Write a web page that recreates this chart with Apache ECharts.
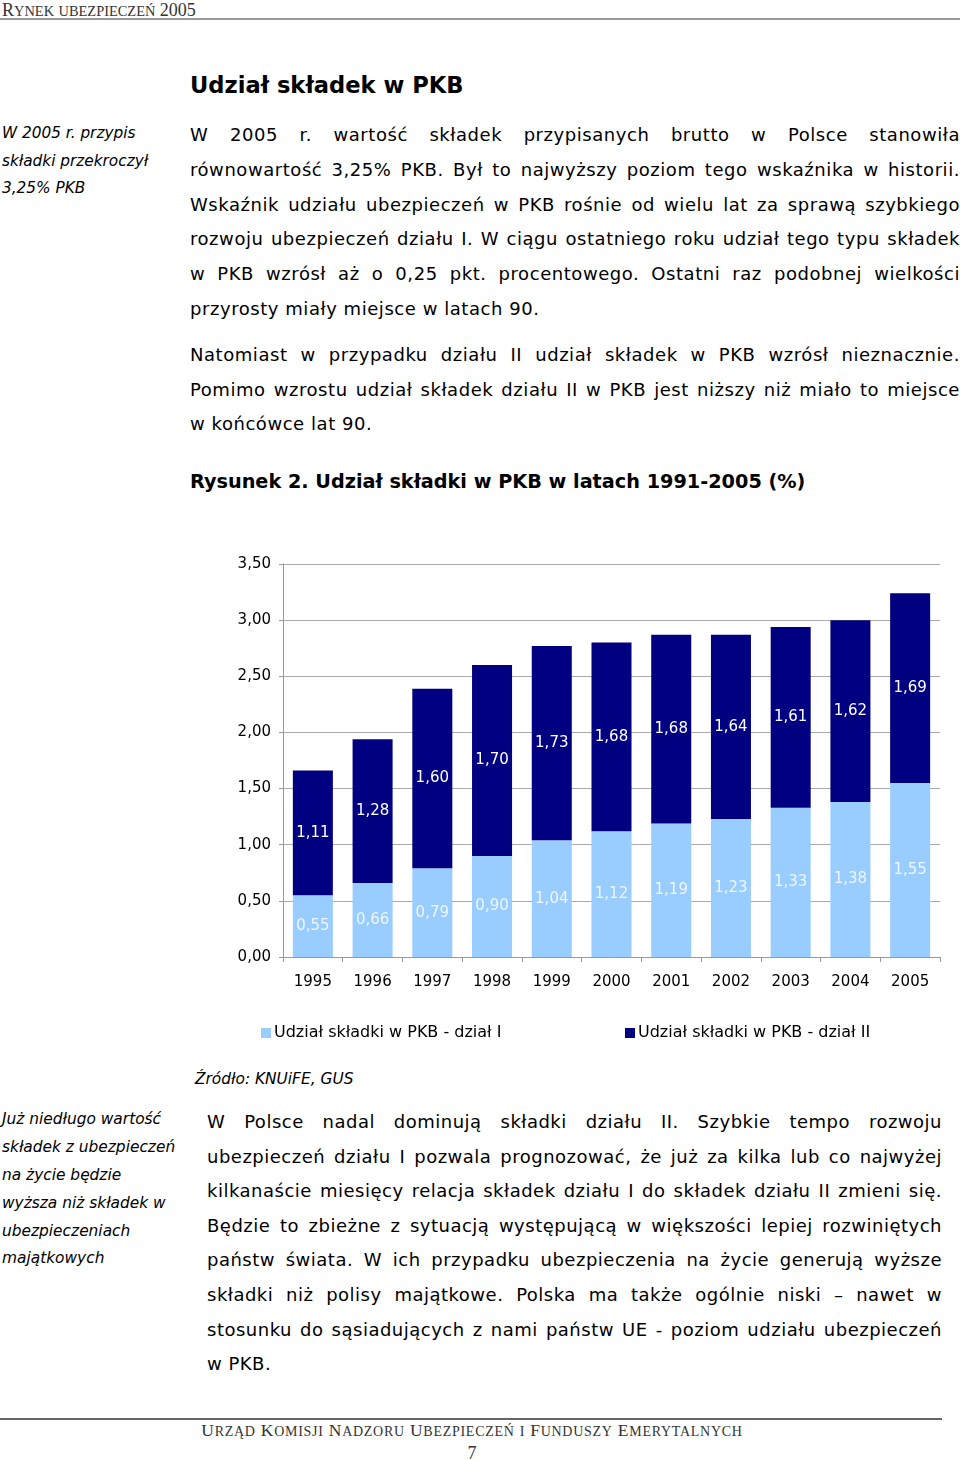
<!DOCTYPE html>
<html><head><meta charset="utf-8">
<script src="https://cdn.jsdelivr.net/npm/echarts@6/dist/echarts.min.js"></script>
<style>
html,body{margin:0;padding:0;background:#fff;}
body{width:960px;height:1460px;position:relative;overflow:hidden;font-family:"DejaVu Sans",Verdana,sans-serif;color:#000;}
.ln{position:absolute;white-space:nowrap;}
.j{text-align:justify;text-align-last:justify;}
.sc{font-family:"Liberation Serif","DejaVu Serif",serif;}
.sc .s{font-size:0.8em;}
#chart{position:absolute;left:0;top:540px;width:960px;height:520px;}
</style></head><body>
<div id="page"></div>
<div id="chart"></div>
<script>
// ---- data ----
const years = ['1995','1996','1997','1998','1999','2000','2001','2002','2003','2004','2005'];
const dzialI = [0.55,0.66,0.79,0.90,1.04,1.12,1.19,1.23,1.33,1.38,1.55];
const dzialII = [1.11,1.28,1.60,1.70,1.73,1.68,1.68,1.64,1.61,1.62,1.69];
const seriesNames = ['Udział składki w PKB - dział I','Udział składki w PKB - dział II'];

// ---- page text ----
const page = document.getElementById('page');
function addLine(text, x, cy, opts){
  const d = document.createElement('div');
  d.className = 'ln' + (opts.justify ? ' j' : '') + (opts.cls ? ' ' + opts.cls : '');
  if (opts.smallCaps) {
    // manual small caps: capitals full size, lowercase as reduced capitals
    text.split('').forEach(ch => {
      if (ch !== ch.toUpperCase()) {
        const s = document.createElement('span'); s.className = 's'; s.textContent = ch.toUpperCase(); d.appendChild(s);
      } else d.appendChild(document.createTextNode(ch));
    });
  } else d.textContent = text;
  const fs = opts.size;
  d.style.fontSize = fs + 'px';
  d.style.lineHeight = (fs + 4) + 'px';
  d.style.left = x + 'px';
  d.style.top = (cy - (fs + 4) / 2) + 'px';
  if (opts.width) d.style.width = opts.width + 'px';
  if (opts.ls) d.style.letterSpacing = opts.ls + 'px';
  if (opts.italic) d.style.fontStyle = 'italic';
  if (opts.bold) d.style.fontWeight = 'bold';
  if (opts.color) d.style.color = opts.color;
  if (opts.center) { d.style.textAlign = 'center'; }
  page.appendChild(d);
}
function addPara(lines, x, y0, step, width, size, ls){
  lines.forEach((t, i) => addLine(t, x, y0 + i * step, {size, width, ls, justify: i < lines.length - 1}));
}
function addRule(x, y, w, h, c){
  const d = document.createElement('div');
  d.style.cssText = `position:absolute;left:${x}px;top:${y}px;width:${w}px;height:${h}px;background:${c};`;
  page.appendChild(d);
}

addLine('Rynek ubezpieczeń 2005', 2, 10, {size:18, cls:'sc', smallCaps:true, color:'#333'});
addRule(0, 18, 960, 2, '#999');

addLine('Udział składek w PKB', 190, 85, {size:22.6, bold:true});

['W 2005 r. przypis','składki przekroczył','3,25% PKB'].forEach((t,i)=>addLine(t, 2, 134 + i*27.5, {size:15.3, italic:true}));

addPara([
 'W 2005 r. wartość składek przypisanych brutto w Polsce stanowiła',
 'równowartość 3,25% PKB. Był to najwyższy poziom tego wskaźnika w historii.',
 'Wskaźnik udziału ubezpieczeń w PKB rośnie od wielu lat za sprawą szybkiego',
 'rozwoju ubezpieczeń działu I. W ciągu ostatniego roku udział tego typu składek',
 'w PKB wzrósł aż o 0,25 pkt. procentowego. Ostatni raz podobnej wielkości',
 'przyrosty miały miejsce w latach 90.'
], 190, 135, 34.8, 770, 18, 0.55);

addPara([
 'Natomiast w przypadku działu II udział składek w PKB wzrósł nieznacznie.',
 'Pomimo wzrostu udział składek działu II w PKB jest niższy niż miało to miejsce',
 'w końcówce lat 90.'
], 190, 355, 34.6, 770, 18, 0.55);

addLine('Rysunek 2. Udział składki w PKB w latach 1991-2005 (%)', 190, 482, {size:19.25, bold:true});

addLine('Źródło: KNUiFE, GUS', 195, 1080, {size:15.4, italic:true});

['Już niedługo wartość','składek z ubezpieczeń','na życie będzie','wyższa niż składek w','ubezpieczeniach','majątkowych']
  .forEach((t,i)=>addLine(t, 2, 1120 + i*27.8, {size:15.4, italic:true}));

addPara([
 'W Polsce nadal dominują składki działu II. Szybkie tempo rozwoju',
 'ubezpieczeń działu I pozwala prognozować, że już za kilka lub co najwyżej',
 'kilkanaście miesięcy relacja składek działu I do składek działu II zmieni się.',
 'Będzie to zbieżne z sytuacją występującą w większości lepiej rozwiniętych',
 'państw świata. W ich przypadku ubezpieczenia na życie generują wyższe',
 'składki niż polisy majątkowe. Polska ma także ogólnie niski – nawet w',
 'stosunku do sąsiadujących z nami państw UE - poziom udziału ubezpieczeń',
 'w PKB.'
], 207, 1122, 34.6, 735, 18, 0.5);

addRule(0, 1418, 942, 2, '#666');
addLine('Urząd Komisji Nadzoru Ubezpieczeń i Funduszy Emerytalnych', 0, 1431, {size:17.5, cls:'sc', smallCaps:true, ls:0.72, width:944, center:true, color:'#333'});
addLine('7', 0, 1453, {size:18, cls:'sc', width:944, center:true, color:'#333'});

// ---- chart ----
const chart = echarts.init(document.getElementById('chart'), null, {renderer:'canvas'});
const fmt = v => Number(v).toFixed(2).replace('.', ',');
const FONT = 'DejaVu Sans';
chart.setOption({
  animation:false,
  textStyle:{fontFamily:FONT},
  grid:{left:283, right:20, top:24, bottom:103, containLabel:false},
  legend:[
    {data:[seriesNames[0]], left:256, top:480, itemWidth:10, itemHeight:10, icon:'rect', itemGap:4,
     textStyle:{fontFamily:FONT, fontSize:16, color:'#000', padding:[0,0,0,-2]}},
    {data:[seriesNames[1]], left:620, top:480, itemWidth:10, itemHeight:10, icon:'rect', itemGap:4,
     textStyle:{fontFamily:FONT, fontSize:16, color:'#000', padding:[0,0,0,-2]}}
  ],
  xAxis:{type:'category', data:years, boundaryGap:true,
    axisLine:{lineStyle:{color:'#999'}},
    axisTick:{show:true, length:5, lineStyle:{color:'#999'}},
    axisLabel:{fontFamily:FONT, fontSize:15, color:'#000', margin:18}},
  yAxis:{type:'value', min:0, max:3.5, interval:0.5,
    axisLine:{show:true, lineStyle:{color:'#999'}},
    axisTick:{show:true, length:4, lineStyle:{color:'#999'}},
    splitLine:{lineStyle:{color:'#aaa'}},
    axisLabel:{fontFamily:FONT, fontSize:15, color:'#000', margin:12, formatter:fmt}},
  series:[
    {name:seriesNames[0], type:'bar', stack:'a', data:dzialI, barCategoryGap:'33%',
     itemStyle:{color:'#99ccff'},
     label:{show:true, position:'inside', fontFamily:FONT, fontSize:15, color:'#eef6ff', formatter:p=>fmt(p.value)}},
    {name:seriesNames[1], type:'bar', stack:'a', data:dzialII, barCategoryGap:'33%',
     itemStyle:{color:'#000080'},
     label:{show:true, position:'inside', fontFamily:FONT, fontSize:15, color:'#ffffff', formatter:p=>fmt(p.value)}}
  ]
});
</script>
</body></html>
